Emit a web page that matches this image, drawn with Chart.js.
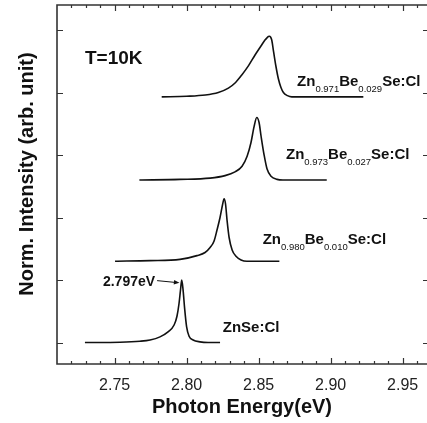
<!DOCTYPE html>
<html>
<head>
<meta charset="utf-8">
<script src="https://cdn.jsdelivr.net/npm/chart.js@4.4.1/dist/chart.umd.min.js"></script>
<style>
  html, body { margin: 0; padding: 0; background: #fff; }
  canvas { display: block; }
</style>
</head>
<body>
<canvas id="pl" width="427" height="423"></canvas>
<script>
/* ── PL spectra at 10 K, stacked with vertical offsets ── */
const OFFSETS = [0, 1.3, 2.6, 3.93];

// ZnSe:Cl
const ZNSE_E = [2.7294, 2.7538, 2.7676, 2.7746, 2.7815, 2.7871, 2.7913, 2.7933, 2.7947, 2.7958,
                2.7966, 2.7975, 2.7986, 2.8000, 2.8017, 2.8045, 2.8093, 2.8149, 2.8232];
const ZNSE_I = [0, 0.005, 0.02, 0.04, 0.09, 0.17, 0.28, 0.42, 0.62, 0.85,
                1.0, 0.85, 0.55, 0.25, 0.10, 0.04, 0.01, 0, 0];

// Zn0.990Be0.010Se:Cl
const BE010_E = [2.7503, 2.7746, 2.7954, 2.8072, 2.8128, 2.8163, 2.8190, 2.8211, 2.8232, 2.8249,
                 2.8260, 2.8270, 2.8281, 2.8295, 2.8316, 2.8343, 2.8378, 2.8419, 2.8644];
const BE010_I = [0, 0.01, 0.03, 0.09, 0.14, 0.22, 0.32, 0.50, 0.70, 0.90,
                 1.0, 0.92, 0.65, 0.38, 0.18, 0.08, 0.02, 0, 0];

// Zn0.973Be0.027Se:Cl
const BE027_E = [2.7672, 2.7954, 2.8163, 2.8267, 2.8336, 2.8385, 2.8420, 2.8447, 2.8468, 2.8487,
                 2.8503, 2.8517, 2.8538, 2.8558, 2.8586, 2.8628, 2.8669, 2.8973];
const BE027_I = [0, 0.01, 0.03, 0.07, 0.13, 0.22, 0.38, 0.60, 0.85, 1.0,
                 0.92, 0.70, 0.40, 0.18, 0.06, 0.01, 0, 0];

// Zn0.971Be0.029Se:Cl
const BE029_E = [2.7827, 2.8000, 2.8130, 2.8220, 2.8290, 2.8340, 2.8383, 2.8430, 2.8475, 2.8515, 2.8544,
                 2.8558, 2.8568, 2.8575, 2.8582, 2.8591, 2.8604, 2.8620, 2.8637, 2.8655, 2.8672,
                 2.8700, 2.8730, 2.9227];
const BE029_I = [0, 0.01, 0.03, 0.07, 0.14, 0.23, 0.35, 0.50, 0.67, 0.81, 0.91,
                 0.945, 0.965, 0.97, 0.96, 0.91, 0.72, 0.49, 0.29, 0.15, 0.07,
                 0.02, 0, 0];

const X_TICKS = [2.75, 2.80, 2.85, 2.90, 2.95];
const X_MINOR = [2.72, 2.73, 2.74, 2.75, 2.76, 2.77, 2.78, 2.79, 2.80, 2.81, 2.82, 2.83, 2.84,
                 2.85, 2.86, 2.87, 2.88, 2.89, 2.90, 2.91, 2.92, 2.93, 2.94, 2.95, 2.96];
const Y_TICKS = [0, 1, 2, 3, 4, 5];

// sample labels: [main, sub, main, sub, main] pieces, anchored in data units
const SAMPLE_LABELS = [
    { parts: ['ZnSe:Cl'], x: 2.8251, y: 0.17 },
    { parts: ['Zn', '0.980', 'Be', '0.010', 'Se:Cl'], x: 2.8528, y: 1.57 },
    { parts: ['Zn', '0.973', 'Be', '0.027', 'Se:Cl'], x: 2.8690, y: 2.93 },
    { parts: ['Zn', '0.971', 'Be', '0.029', 'Se:Cl'], x: 2.8767, y: 4.10 }
];
const TEMP_LABEL = { text: 'T=10K', x: 2.7294, y: 4.46 };
const PEAK_LABEL = { text: '2.797eV', x: 2.7419, y: 0.90, arrowFrom: [2.7795, 0.99], arrowTo: [2.7950, 0.955] };

const FONT = "'Liberation Sans', Arial, Helvetica, sans-serif";
const INK = '#111';
const AXIS = '#333';

const toPoints = (E, I, off) => E.map((e, i) => ({ x: e, y: off + I[i] }));

const spectrum = (E, I, off) => ({
    data: toPoints(E, I, off),
    showLine: true,
    borderColor: INK,
    borderWidth: 1.6,
    pointRadius: 0,
    cubicInterpolationMode: 'monotone',
    fill: false
});

/* ── frame, inward ticks, y title, annotations ── */
const framePlugin = {
    id: 'frame',
    afterDraw(chart) {
        const { ctx, chartArea: a, scales: { x, y } } = chart;
        ctx.save();

        // box (right edge falls off the canvas)
        ctx.strokeStyle = AXIS;
        ctx.lineWidth = 1.6;
        ctx.beginPath();
        ctx.moveTo(a.right + 2, a.top);
        ctx.lineTo(a.left, a.top);
        ctx.lineTo(a.left, a.bottom);
        ctx.lineTo(a.right + 2, a.bottom);
        ctx.stroke();

        ctx.lineWidth = 1.2;
        ctx.beginPath();
        X_MINOR.forEach(v => {
            const px = Math.round(x.getPixelForValue(v)) + 0.5;
            const major = X_TICKS.some(t => Math.abs(t - v) < 1e-6);
            const len = major ? 6 : 3;
            ctx.moveTo(px, a.bottom); ctx.lineTo(px, a.bottom - len);
            ctx.moveTo(px, a.top); ctx.lineTo(px, a.top + len);
        });
        Y_TICKS.forEach(v => {
            const py = Math.round(y.getPixelForValue(v)) + 0.5;
            ctx.moveTo(a.left, py); ctx.lineTo(a.left + 6, py);
            ctx.moveTo(a.right, py); ctx.lineTo(a.right - 4, py);
        });
        ctx.stroke();

        // y axis title
        ctx.fillStyle = INK;
        ctx.font = `bold 20px ${FONT}`;
        ctx.textAlign = 'center';
        ctx.textBaseline = 'middle';
        ctx.save();
        ctx.translate(27, 174);
        ctx.rotate(-Math.PI / 2);
        ctx.fillText('Norm. Intensity (arb. unit)', 0, 0);
        ctx.restore();

        // sample labels with subscripts
        ctx.textAlign = 'left';
        ctx.textBaseline = 'alphabetic';
        SAMPLE_LABELS.forEach(lab => {
            let px = x.getPixelForValue(lab.x);
            const py = y.getPixelForValue(lab.y);
            lab.parts.forEach((p, i) => {
                const sub = i % 2 === 1;
                ctx.font = sub ? `9.5px ${FONT}` : `bold 15px ${FONT}`;
                ctx.fillText(p, px, sub ? py + 6 : py);
                px += ctx.measureText(p).width;
            });
        });

        ctx.font = `bold 19px ${FONT}`;
        ctx.fillText(TEMP_LABEL.text, x.getPixelForValue(TEMP_LABEL.x), y.getPixelForValue(TEMP_LABEL.y));

        ctx.font = `bold 14px ${FONT}`;
        ctx.fillText(PEAK_LABEL.text, x.getPixelForValue(PEAK_LABEL.x), y.getPixelForValue(PEAK_LABEL.y));

        // arrow to the ZnSe peak
        const x0 = x.getPixelForValue(PEAK_LABEL.arrowFrom[0]), y0 = y.getPixelForValue(PEAK_LABEL.arrowFrom[1]);
        const x1 = x.getPixelForValue(PEAK_LABEL.arrowTo[0]), y1 = y.getPixelForValue(PEAK_LABEL.arrowTo[1]);
        const ang = Math.atan2(y1 - y0, x1 - x0);
        ctx.strokeStyle = INK;
        ctx.lineWidth = 1;
        ctx.beginPath(); ctx.moveTo(x0, y0); ctx.lineTo(x1 - 4 * Math.cos(ang), y1 - 4 * Math.sin(ang)); ctx.stroke();
        ctx.beginPath();
        ctx.moveTo(x1, y1);
        ctx.lineTo(x1 - 6 * Math.cos(ang - 0.4), y1 - 6 * Math.sin(ang - 0.4));
        ctx.lineTo(x1 - 6 * Math.cos(ang + 0.4), y1 - 6 * Math.sin(ang + 0.4));
        ctx.closePath();
        ctx.fill();

        ctx.restore();
    }
};

new Chart(document.getElementById('pl'), {
    type: 'scatter',
    data: {
        datasets: [
            spectrum(ZNSE_E, ZNSE_I, OFFSETS[0]),
            spectrum(BE010_E, BE010_I, OFFSETS[1]),
            spectrum(BE027_E, BE027_I, OFFSETS[2]),
            spectrum(BE029_E, BE029_I, OFFSETS[3])
        ]
    },
    options: {
        responsive: false,
        devicePixelRatio: 1,
        animation: false,
        layout: { padding: { top: 5, right: 0, left: 0, bottom: 0 } },
        plugins: { legend: { display: false }, tooltip: { enabled: false } },
        scales: {
            x: {
                type: 'linear',
                min: 2.71,
                max: 2.9669,
                afterBuildTicks: s => { s.ticks = X_TICKS.map(v => ({ value: v })); },
                afterFit: s => { s.height = 59; },
                ticks: {
                    autoSkip: false,
                    maxRotation: 0,
                    padding: 4,
                    color: '#222',
                    font: { family: FONT, size: 16 },
                    callback: v => v.toFixed(2)
                },
                grid: { display: false },
                border: { display: false },
                title: {
                    display: true,
                    text: 'Photon Energy(eV)',
                    color: INK,
                    font: { family: FONT, size: 20, weight: 'bold' },
                    padding: { top: 0, bottom: 4 }
                }
            },
            y: {
                type: 'linear',
                min: -0.344,
                max: 5.4,
                afterFit: s => { s.width = 57; },
                ticks: { display: false },
                grid: { display: false },
                border: { display: false }
            }
        }
    },
    plugins: [framePlugin]
});
</script>
</body>
</html>
